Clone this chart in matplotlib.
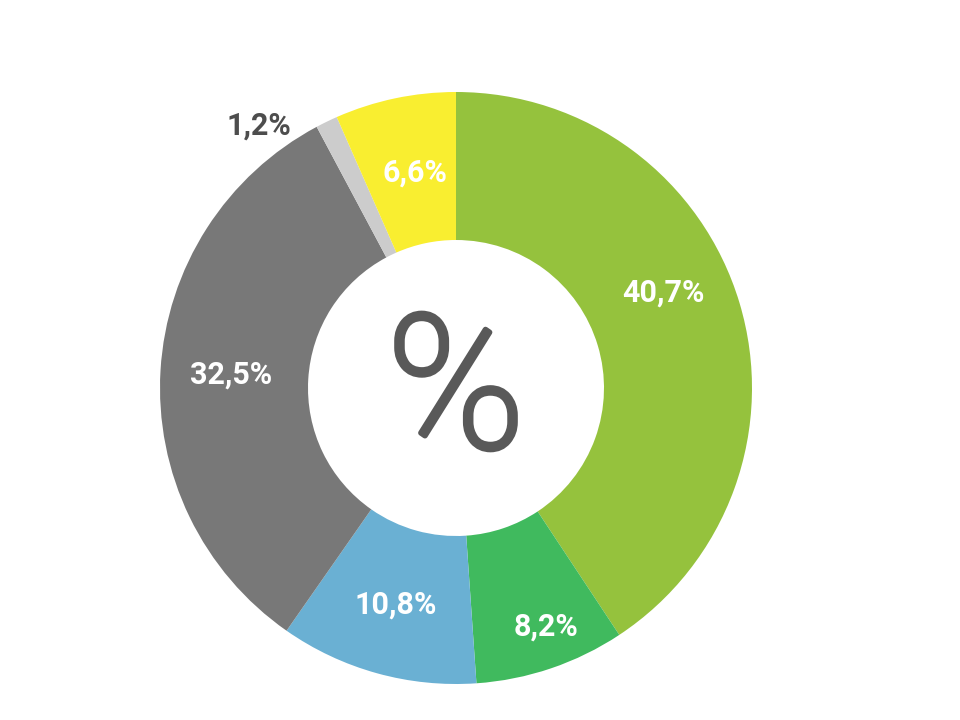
import matplotlib
matplotlib.use("Agg")
import matplotlib.pyplot as plt
import matplotlib.patheffects as pe
import numpy as np

values = [40.7, 8.2, 10.8, 32.5, 1.2, 6.6]
labels = ["40,7%", "8,2%", "10,8%", "32,5%", "1,2%", "6,6%"]
colors = ["#95C23D", "#40BA5E", "#6AB0D3", "#787878", "#CCCCCC", "#F9EE30"]

plt.rcParams['font.family'] = ['Roboto', 'DejaVu Sans']

fig = plt.figure(figsize=(9.6, 7.2), dpi=100)
ax = fig.add_axes([160/960, 36/720, 592/960, 592/720])
wedges, _ = ax.pie(values, colors=colors, startangle=90, counterclock=False,
                   radius=1.0, wedgeprops=dict(width=0.5, edgecolor='none'))
ax.set_xlim(-1, 1)
ax.set_ylim(-1, 1)
ax.set_aspect('equal')
ax.axis('off')

# label placement tweaks (radius, angle offset in degrees)
tweaks = [(0.77, 8), (0.86, 2), (0.76, 0), (0.76, 0), (1.11, 11), (0.74, -1)]
for w, lab, (r, d) in zip(wedges, labels, tweaks):
    ang = np.deg2rad((w.theta1 + w.theta2) / 2 + d)
    outside = r > 1
    ax.text(r * np.cos(ang), r * np.sin(ang), lab,
            ha='center', va='center', fontsize=22, fontweight='semibold',
            color='#4D4D4D' if outside else 'white')

ax.text(0, -0.03, "%", ha='center', va='center', fontsize=134,
        fontweight='light', color='#595959',
        path_effects=[pe.withStroke(linewidth=4, foreground='#595959')])

fig.savefig("out.png", dpi=100, facecolor='white')
